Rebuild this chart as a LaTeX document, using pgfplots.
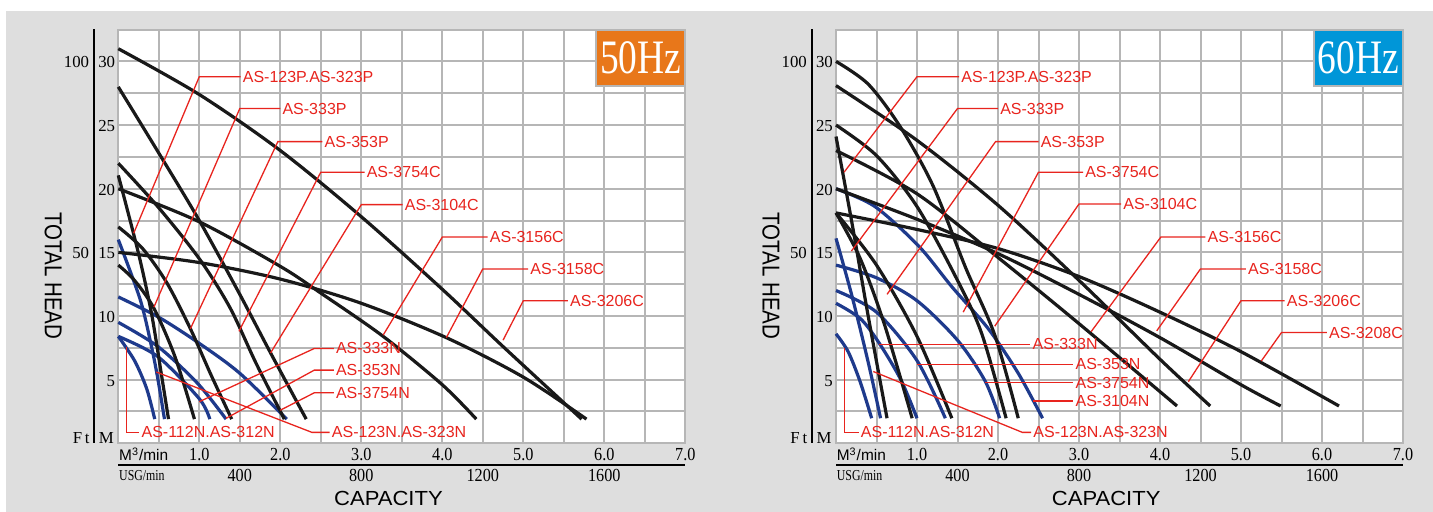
\documentclass[border=0pt]{standalone}
\usepackage{pgfplots}
\pgfplotsset{compat=1.18}
\usepackage{fontspec}
\setmainfont{Liberation Serif}
\newfontfamily\lsans{Liberation Sans}
\newfontfamily\numf{Liberation Serif}
\newfontfamily\tickf[FakeStretch=0.88]{Liberation Serif}
\newfontfamily\usgf[FakeStretch=0.78]{Liberation Serif}
\newfontfamily\hzf[FakeStretch=0.78]{Liberation Serif}
\newfontfamily\thf[FakeStretch=0.84]{Liberation Sans}
\newfontfamily\capf[FakeStretch=1.08]{Liberation Sans}

\definecolor{bg}{RGB}{222,222,222}
\definecolor{gridc}{RGB}{182,182,182}
\definecolor{redl}{RGB}{232,36,30}
\definecolor{bluec}{RGB}{30,58,140}
\definecolor{blackc}{RGB}{25,25,25}
\definecolor{orangebox}{RGB}{232,119,26}
\definecolor{bluebox}{RGB}{0,150,216}

\pgfplotsset{
  panel/.style={
    scale only axis, width=283.5bp, height=206.85bp,
    xmin=0, xmax=7, ymin=0, ymax=32.5,
    xtick={0,0.5,1,1.5,2,2.5,3,3.5,4,4.5,5,5.5,6,6.5,7},
    ytick={0,2.5,5,7.5,10,12.5,15,17.5,20,22.5,25,27.5,30,32.5},
    xticklabels={}, yticklabels={},
    major tick length=0pt,
    grid=major,
    major grid style={gridc, line width=1bp},
    axis line style={gridc, line width=1bp},
    axis background/.style={fill=white},
    clip=false,
  },
  kc/.style={blackc, line width=1.6bp, smooth, no markers},
  bc/.style={bluec, line width=1.6bp, smooth, no markers},
}
\tikzset{
  ld/.style={redl, line width=0.65bp},
  lt/.style={anchor=west, inner sep=0.8bp, text=redl, font=\lsans\fontsize{8bp}{8.5bp}\selectfont},
}

\newcommand{\extras}[3]{%
\begin{scope}[x=0.5bp,y=-0.5bp,xshift=#1]
  \draw[black, line width=1bp] (94.3,29.3) -- (94.3,443.3);
  \begin{scope}[every node/.style={font=\numf\fontsize{8.4bp}{9bp}\selectfont, inner sep=0pt}]
    \node[anchor=east] at (115.5,62.4) {30};
    \node[anchor=east] at (115.5,126.0) {25};
    \node[anchor=east] at (115.5,189.7) {20};
    \node[anchor=east] at (115.5,253.3) {15};
    \node[anchor=east] at (115.5,317.0) {10};
    \node[anchor=east] at (115.5,380.6) {5};
    \node[anchor=east] at (89.5,62.4) {100};
    \node[anchor=east] at (89.5,253.3) {50};
    \node[anchor=base east] at (90,443.3) {F\,t};
    \node[anchor=base west] at (98.5,443.3) {M};
  \end{scope}
  \node[anchor=base west, inner sep=0pt, font=\lsans\fontsize{7.7bp}{9bp}\selectfont] at (118.8,461) {M\textsuperscript{3}/min};
  \begin{scope}[every node/.style={font=\tickf\fontsize{9.2bp}{10bp}\selectfont, inner sep=0pt, anchor=base}]
    \node at (199.3,461) {1.0};
    \node at (280.3,461) {2.0};
    \node at (361.3,461) {3.0};
    \node at (442.3,461) {4.0};
    \node at (523.3,461) {5.0};
    \node at (604.3,461) {6.0};
    \node at (685.3,461) {7.0};
    \node at (239.8,481.5) {400};
    \node at (361.3,481.5) {800};
    \node at (482.8,481.5) {1200};
    \node at (604.3,481.5) {1600};
  \end{scope}
  \draw[black, line width=0.85bp] (118.3,465.3) -- (685.3,465.3);
  \node[anchor=base west, inner sep=0pt, font=\usgf\fontsize{7.6bp}{9bp}\selectfont] at (118.8,481) {USG/min};
  \node[anchor=base, inner sep=0pt, font=\capf\fontsize{10.2bp}{12bp}\selectfont] at (388.5,506) {CAPACITY};
  \node[rotate=-90, inner sep=0pt, font=\thf\fontsize{12.2bp}{14bp}\selectfont] at (53.3,276) {TOTAL HEAD};
  \fill[#2] (596,29.6) rectangle (685.3,86);
  \draw[gridc, line width=1bp] (596,29.6) rectangle (685.3,86);
  \node[text=white, inner sep=0pt, anchor=base, font=\hzf\fontsize{24bp}{25bp}\selectfont] at (640.6,73.3) {#3};
\end{scope}}

\begin{document}
\begin{tikzpicture}
\useasboundingbox (0,0) rectangle (716.5bp,-256bp);
\fill[white] (0,0) rectangle (716.5bp,-256bp);
\fill[bg] (3bp,-5.5bp) rectangle (716.5bp,-256bp);

% ---------------- 50 Hz ----------------
\begin{axis}[panel, at={(59.15bp,-221.65bp)}, anchor=south west]
  % blue curves
  \addplot[bc] coordinates {(0,16) (0.27,11.3) (0.41,7.6) (0.49,5.0) (0.57,1.9)};
  \addplot[bc] coordinates {(0,11.5) (0.5,9.9) (1,7.85) (1.5,5.5) (2.08,1.9)};
  \addplot[bc] coordinates {(0,9.5) (0.49,7.6) (0.98,4.7) (1.33,1.9)};
  \addplot[bc] coordinates {(0,8.4) (0.49,6.8) (1.0,3.5) (1.13,1.9)};
  \addplot[bc] coordinates {(0,8.4) (0.2,6.5) (0.35,4.3) (0.45,1.9)};
  % black curves
  \addplot[kc] coordinates {(0,31) (1,27.4) (2,23) (3,17.8) (4,12.1) (4.75,7.6) (5.72,1.9)};
  \addplot[kc] coordinates {(0,28) (0.5,22.8) (1,17.5) (1.5,11.7) (1.88,7.1) (2.32,1.9)};
  \addplot[kc] coordinates {(0,22) (0.5,18.5) (1,14.5) (1.375,10.7) (1.7,6.3) (2.05,1.9)};
  \addplot[kc] coordinates {(0,21.05) (0.25,14.9) (0.41,10.2) (0.53,5.5) (0.62,1.9)};
  \addplot[kc] coordinates {(0,20) (1,17.4) (2,13.9) (2.5,11.8) (3.27,8.4) (4,4.6) (4.42,1.9)};
  \addplot[kc] coordinates {(0,15) (1,14.2) (2,12.9) (3,11.0) (4.05,8.3) (5,5.2) (5.78,1.9)};
  \addplot[kc] coordinates {(0,17) (0.3,15.3) (0.6,12.6) (0.89,9.0) (1.15,5.3) (1.4,1.9)};
  \addplot[kc] coordinates {(0,14) (0.2,12.8) (0.44,10.6) (0.7,6.8) (0.94,1.9)};
  % leaders
  \draw[ld] (axis cs:0.19,16.5) -- (axis cs:1.0,28.8) -- (axis cs:1.51,28.8) node[lt] {AS-123P.AS-323P};
  \draw[ld] (axis cs:0.44,10.7) -- (axis cs:1.5,26.3) -- (axis cs:2.0,26.3) node[lt] {AS-333P};
  \draw[ld] (axis cs:0.89,9.0) -- (axis cs:1.97,23.7) -- (axis cs:2.52,23.7) node[lt] {AS-353P};
  \draw[ld] (axis cs:1.49,8.8) -- (axis cs:2.5,21.3) -- (axis cs:3.04,21.3) node[lt] {AS-3754C};
  \draw[ld] (axis cs:1.88,7.1) -- (axis cs:3.0,18.75) -- (axis cs:3.51,18.75) node[lt] {AS-3104C};
  \draw[ld] (axis cs:3.27,8.5) -- (axis cs:4.0,16.2) -- (axis cs:4.56,16.2) node[lt] {AS-3156C};
  \draw[ld] (axis cs:4.05,8.3) -- (axis cs:4.5,13.7) -- (axis cs:5.06,13.7) node[lt] {AS-3158C};
  \draw[ld] (axis cs:4.75,8.1) -- (axis cs:5.0,11.2) -- (axis cs:5.55,11.2) node[lt] {AS-3206C};
  \draw[ld] (axis cs:1.0,3.27) -- (axis cs:2.42,7.45) -- (axis cs:2.66,7.45) node[lt] {AS-333N};
  \draw[ld] (axis cs:1.33,1.96) -- (axis cs:2.42,5.75) -- (axis cs:2.66,5.75) node[lt] {AS-353N};
  \draw[ld] (axis cs:2.0,2.6) -- (axis cs:2.42,3.97) -- (axis cs:2.66,3.97) node[lt] {AS-3754N};
  \draw[ld] (axis cs:0.47,5.6) -- (axis cs:2.39,0.86) -- (axis cs:2.61,0.86) node[lt] {AS-123N.AS-323N};
  \draw[ld] (axis cs:0.1,7.6) -- (axis cs:0.1,0.86) -- (axis cs:0.26,0.86) node[lt] {AS-112N.AS-312N};
\end{axis}
\extras{0bp}{orangebox}{50Hz}

% ---------------- 60 Hz ----------------
\begin{axis}[panel, at={(418bp,-221.65bp)}, anchor=south west]
  % blue curves
  \addplot[bc] coordinates {(0,20) (0.48,18.6) (1.02,15.5) (1.43,12.3) (1.88,9.0) (2.25,5.5) (2.55,1.97)};
  \addplot[bc] coordinates {(0,16.1) (0.2,11.5) (0.4,6.3) (0.55,1.97)};
  \addplot[bc] coordinates {(0,14) (0.5,13.0) (1.0,11.2) (1.5,8.1) (1.84,4.9) (2.02,1.97)};
  \addplot[bc] coordinates {(0,12) (0.5,10.3) (1.0,6.5) (1.35,1.97)};
  \addplot[bc] coordinates {(0,11) (0.3,9.8) (0.53,7.9) (0.8,5.0) (1.0,1.97)};
  \addplot[bc] coordinates {(0,8.6) (0.15,7.2) (0.3,4.8) (0.44,1.97)};
  % black curves
  \addplot[kc] coordinates {(0,30) (0.4,28.2) (0.8,24.8) (1.2,20.2) (1.6,13.8) (1.96,8.5) (2.25,1.97)};
  \addplot[kc] coordinates {(0,25) (0.5,22.6) (1.0,18.6) (1.5,12.8) (1.8,8.6) (2.1,1.97)};
  \addplot[kc] coordinates {(0,24.1) (0.2,17.2) (0.4,9.9) (0.63,1.97)};
  \addplot[kc] coordinates {(0,28.1) (1,23.8) (2,18.7) (3,12.8) (4,6.6) (4.62,2.93)};
  \addplot[kc] coordinates {(0,23) (1,19.6) (2,14.6) (3,9.4) (4.21,2.93)};
  \addplot[kc] coordinates {(0,20) (1,17.6) (2,14.9) (3,11.7) (4,8.3) (5,4.6) (5.49,2.93)};
  \addplot[kc] coordinates {(0,18.1) (1,16.8) (2,15.3) (3,13.1) (4,10.3) (5,7.2) (6.21,2.93)};
  \addplot[kc] coordinates {(0,18.1) (0.3,14.5) (0.6,9.3) (0.94,1.97)};
  \addplot[kc] coordinates {(0,18.1) (0.5,14.0) (1.0,8.4) (1.43,1.97)};
  % leaders
  \draw[ld] (axis cs:0.1,21.3) -- (axis cs:1.0,28.8) -- (axis cs:1.52,28.8) node[lt] {AS-123P.AS-323P};
  \draw[ld] (axis cs:0.19,15.1) -- (axis cs:1.5,26.3) -- (axis cs:2.0,26.3) node[lt] {AS-333P};
  \draw[ld] (axis cs:0.63,11.7) -- (axis cs:1.97,23.7) -- (axis cs:2.5,23.7) node[lt] {AS-353P};
  \draw[ld] (axis cs:1.57,10.3) -- (axis cs:2.5,21.3) -- (axis cs:3.05,21.3) node[lt] {AS-3754C};
  \draw[ld] (axis cs:1.96,9.2) -- (axis cs:3.0,18.8) -- (axis cs:3.52,18.8) node[lt] {AS-3104C};
  \draw[ld] (axis cs:3.15,8.77) -- (axis cs:4.01,16.2) -- (axis cs:4.56,16.2) node[lt] {AS-3156C};
  \draw[ld] (axis cs:3.96,8.84) -- (axis cs:4.5,13.7) -- (axis cs:5.06,13.7) node[lt] {AS-3158C};
  \draw[ld] (axis cs:4.35,4.84) -- (axis cs:5.0,11.2) -- (axis cs:5.54,11.2) node[lt] {AS-3206C};
  \draw[ld] (axis cs:5.25,6.46) -- (axis cs:5.5,8.7) -- (axis cs:6.06,8.7) node[lt] {AS-3208C};
  \draw[ld] (axis cs:0.53,7.77) -- (axis cs:2.4,7.77) node[lt] {AS-333N};
  \draw[ld] (axis cs:1.0,6.2) -- (axis cs:2.93,6.2) node[lt] {AS-353N};
  \draw[ld] (axis cs:1.84,4.76) -- (axis cs:2.93,4.76) node[lt] {AS-3754N};
  \draw[ld] (axis cs:2.43,3.32) -- (axis cs:2.93,3.32) node[lt] {AS-3104N};
  \draw[ld] (axis cs:0.46,5.64) -- (axis cs:2.3,0.86) -- (axis cs:2.41,0.86) node[lt] {AS-123N.AS-323N};
  \draw[ld] (axis cs:0.107,7.5) -- (axis cs:0.107,0.86) -- (axis cs:0.28,0.86) node[lt] {AS-112N.AS-312N};
\end{axis}
\extras{358.85bp}{bluebox}{60Hz}
\end{tikzpicture}
\end{document}
